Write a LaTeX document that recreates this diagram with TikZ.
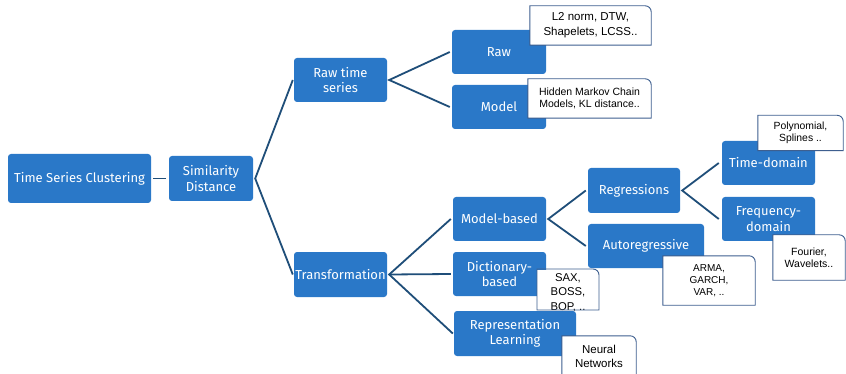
\documentclass[tikz,border=0pt]{standalone}
\usepackage{fontspec}
\setmainfont{Fira Sans}
\newfontfamily\calloutfont{Liberation Sans}
\usetikzlibrary{calc}
\definecolor{boxblue}{HTML}{2A78C8}
\definecolor{linkblue}{HTML}{1F4E79}
\definecolor{calloutedge}{HTML}{3E5F8F}
\tikzset{
  bluebox/.style={fill=boxblue, rounded corners=3pt, text=white, align=center, inner sep=0pt, font=\fontsize{13}{15.5}\selectfont},
  link/.style={draw=linkblue, line width=1.8pt},
  callout/.style={fill=white, align=center, inner sep=0pt, text=black},
  calloutborder/.style={draw=calloutedge, line width=0.9pt},
}
\newcommand\calloutframe[1]{\draw[calloutborder] (#1.south west) -- (#1.north west) -- ($(#1.north east)+(-6pt,0pt)$) arc[start angle=90,end angle=0,radius=6pt] -- (#1.south east) -- cycle;}
\begin{document}
\begin{tikzpicture}[x=1pt,y=-1pt]
\clip (0,0) rectangle (846,374);
\fill[white] (0,0) rectangle (846,374);
% blue boxes
\node[bluebox, minimum width=143pt, minimum height=49pt] (tsc) at (79.5,178.5) {Time Series Clustering};
\node[bluebox, minimum width=84pt, minimum height=45pt] (sim) at (211,178.5) {Similarity\\Distance};
\node[bluebox, minimum width=93pt, minimum height=44pt] (rts) at (340.5,80) {Raw time\\series};
\node[bluebox, minimum width=93pt, minimum height=45pt] (trans) at (340.5,274.5) {Transformation};
\node[bluebox, minimum width=94pt, minimum height=44pt] (raw) at (499,52) {Raw};
\node[bluebox, minimum width=94pt, minimum height=44pt] (model) at (499,107) {Model};
\node[bluebox, minimum width=93pt, minimum height=44pt] (mb) at (499.5,219) {Model-based};
\node[bluebox, minimum width=93pt, minimum height=44pt] (dict) at (499.5,274) {Dictionary-\\based};
\node[bluebox, minimum width=122pt, minimum height=45pt] (rep) at (515,333.5) {Representation\\Learning};
\node[bluebox, minimum width=92pt, minimum height=45pt] (reg) at (634,190.5) {Regressions};
\node[bluebox, minimum width=116pt, minimum height=44pt] (auto) at (646,246) {Autoregressive};
\node[bluebox, minimum width=93pt, minimum height=44pt] (td) at (768.5,163) {Time-domain};
\node[bluebox, minimum width=93pt, minimum height=44pt] (fd) at (768.5,219) {Frequency-\\domain};
% connectors
\draw[link] ($(tsc.east)+(2pt,0)$) -- ($(sim.west)+(-3pt,0)$);
\coordinate (fs) at ($(sim.east)+(2pt,0)$);
\draw[link] ($(rts.west)+(-1pt,0)$) -- (fs) -- ($(trans.west)+(-1pt,0)$);
\coordinate (fr) at ($(rts.east)+(2pt,0)$);
\draw[link] ($(raw.west)+(-2pt,0)$) -- (fr) -- ($(model.west)+(-2pt,0)$);
\coordinate (ft) at ($(trans.east)+(2pt,0)$);
\draw[link] ($(mb.west)+(-2pt,0)$) -- (ft) -- ($(rep.west)+(-1pt,0)$);
\draw[link] (ft) -- ($(dict.west)+(-2pt,0)$);
\coordinate (fm) at ($(mb.east)+(2pt,0)$);
\draw[link] ($(reg.west)+(-2pt,0)$) -- (fm) -- ($(auto.west)+(-2pt,0)$);
\coordinate (fg) at ($(reg.east)+(2pt,0)$);
\draw[link] ($(td.west)+(-3pt,0)$) -- (fg) -- ($(fd.west)+(-3pt,0)$);
% callouts
\node[callout, minimum width=121pt, minimum height=39pt, font=\calloutfont\fontsize{11.5}{15}\selectfont] (c1) at (590.5,25.5) {L2 norm, DTW,\\Shapelets, LCSS..};
\calloutframe{c1}
\node[callout, minimum width=123pt, minimum height=39pt, font=\calloutfont\fontsize{10.5}{12}\selectfont] (c2) at (589.5,98.5) {Hidden Markov Chain\\Models, KL distance..};
\calloutframe{c2}
\node[callout, minimum width=85pt, minimum height=35pt, font=\calloutfont\fontsize{10.4}{12}\selectfont] (c3) at (800.5,133) {Polynomial,\\Splines ..};
\calloutframe{c3}
\node[callout, minimum width=72pt, minimum height=45pt, font=\calloutfont\fontsize{10.5}{11.5}\selectfont] (c4) at (809,257.5) {Fourier,\\Wavelets..};
\calloutframe{c4}
\node[callout, minimum width=92pt, minimum height=49pt, font=\calloutfont\fontsize{10}{12}\selectfont] (c5) at (709,280.5) {ARMA,\\GARCH,\\VAR, ..};
\calloutframe{c5}
\begin{scope}
\clip (536,268) rectangle (600,310);
\node[callout, minimum width=62pt, minimum height=45pt, font=\calloutfont\fontsize{11.3}{14.5}\selectfont] (c6) at (568,292.5) {SAX,\\BOSS,\\BOP, ..};
\end{scope}
\draw[calloutborder] (537,310) -- (537,269) -- (593,269) arc[start angle=90,end angle=0,radius=6pt] -- (599,310) -- cycle;
\node[callout, minimum width=74pt, minimum height=40pt, font=\calloutfont\fontsize{11.5}{14}\selectfont] (c7) at (599,356) {Neural\\Networks};
\calloutframe{c7}
\end{tikzpicture}
\end{document}
